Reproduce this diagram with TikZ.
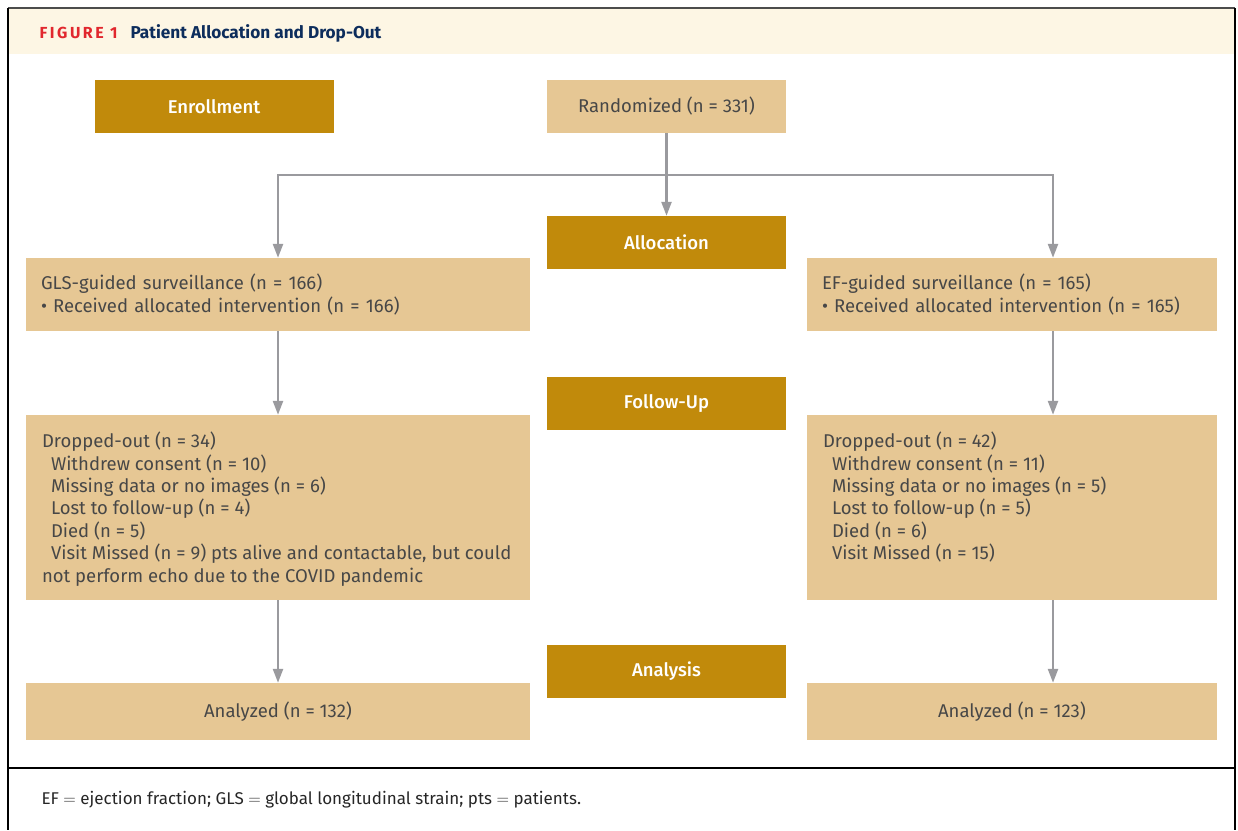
\documentclass[tikz,border=0pt]{standalone}
\usepackage{fontspec}
\setmainfont{Fira Sans}
\newfontfamily\firamed{Fira Sans Medium}
\usetikzlibrary{arrows.meta}

\definecolor{gold}{HTML}{C18A0B}
\definecolor{tan}{HTML}{E6C794}
\definecolor{cream}{HTML}{FDF6E4}
\definecolor{arrowgrey}{HTML}{9A9A9E}
\definecolor{txtgrey}{HTML}{474747}
\definecolor{navy}{HTML}{0D2D5C}
\definecolor{figred}{HTML}{E1272D}

\tikzset{
    stage/.style={fill=gold, text=white, minimum width=239pt, minimum height=53pt,
        font=\fontsize{18.5}{22}\selectfont\firamed},
    info/.style={fill=tan, text=txtgrey, inner xsep=15pt, inner ysep=0pt,
        font=\fontsize{18.5}{22.4}\selectfont},
    flow/.style={draw=arrowgrey, line width=2.4pt,
        -{Triangle[width=10pt,length=14pt]}}
}

\newcommand{\dropbox}[2]{\parbox[c][151pt][t]{#1}{\raggedright #2}}

\begin{document}
\begin{tikzpicture}[x=1pt, y=-1pt]
        \useasboundingbox (0,0) rectangle (1238,830);

        % frame and header
        \fill[cream] (9,9) rectangle (1234,54);
        \draw[line width=2pt, black!70] (8,8) -- (1235,8);
        \draw[line width=2pt] (8,8) -- (8,830);
        \draw[line width=2pt] (1235,8) -- (1235,830);
        \draw[line width=2pt] (8,768) -- (1235,768);

        \node[anchor=west, text=figred, font=\fontsize{16}{18}\selectfont\bfseries\addfontfeature{LetterSpace=16}]
            (fig) at (36,33) {FIGURE 1};
        \node[anchor=west, text=navy, font=\fontsize{17.2}{20}\selectfont\bfseries]
            (title) at (127,33) {Patient Allocation and Drop-Out};

        % stage labels
        \node[stage] (enrol) at (214,106.5) {Enrollment};
        \node[stage, fill=tan, text=txtgrey, font=\fontsize{18.5}{22}\selectfont] (rand) at (666.5,106.5) {Randomized (n = 331)};
        \node[stage] (alloc) at (666.5,242.5) {Allocation};
        \node[stage] (follow) at (666.5,403.5) {Follow-Up};
        \node[stage] (analysis) at (666.5,671.5) {Analysis};

        % arms
        \node[info, minimum width=504pt, minimum height=73pt, text width=474pt, align=left]
            (gls) at (278,294.5) {GLS-guided surveillance (n = 166)\\ \textbullet{} Received allocated intervention (n = 166)};
        \node[info, minimum width=410pt, minimum height=73pt, text width=380pt, align=left]
            (ef) at (1012,294.5) {EF-guided surveillance (n = 165)\\ \textbullet{} Received allocated intervention (n = 165)};

        \node[info, inner xsep=16pt, inner ysep=17pt, minimum width=504pt, minimum height=185pt]
            (dropL) at (278,507.5) {\dropbox{472pt}{Dropped-out (n = 34)\\
                \hspace*{9pt}Withdrew consent (n = 10)\\
                \hspace*{9pt}Missing data or no images (n = 6)\\
                \hspace*{9pt}Lost to follow-up (n = 4)\\
                \hspace*{9pt}Died (n = 5)\\
                \hspace*{9pt}Visit Missed (n = 9) pts alive and contactable, but could\\
                not perform echo due to the COVID pandemic}};
        \node[info, inner xsep=16pt, inner ysep=17pt, minimum width=410pt, minimum height=185pt]
            (dropR) at (1012,507.5) {\dropbox{378pt}{Dropped-out (n = 42)\\
                \hspace*{9pt}Withdrew consent (n = 11)\\
                \hspace*{9pt}Missing data or no images (n = 5)\\
                \hspace*{9pt}Lost to follow-up (n = 5)\\
                \hspace*{9pt}Died (n = 6)\\
                \hspace*{9pt}Visit Missed (n = 15)}};

        \node[info, minimum width=504pt, minimum height=57pt] (anaL) at (278,711.5) {Analyzed (n = 132)};
        \node[info, minimum width=410pt, minimum height=57pt] (anaR) at (1012,711.5) {Analyzed (n = 123)};

        % connectors
        \coordinate (lcol) at (278,175);
        \coordinate (rcol) at (1053,175);
        \draw[flow] (rand) -- (alloc);
        \draw[flow] (rcol) -- (lcol) -- (gls);
        \draw[flow] (lcol) -- (rcol) -- (rcol |- ef.north);
        \draw[flow] (gls) -- (dropL);
        \draw[flow] (dropL) -- (anaL);
        \draw[flow] (rcol |- ef.south) -- (rcol |- dropR.north);
        \draw[flow] (rcol |- dropR.south) -- (rcol |- anaR.north);

        % footnote
        \node[anchor=west, text=black!85, font=\fontsize{17}{20}\selectfont]
            (note) at (38,800) {EF $=$ ejection fraction; GLS $=$ global longitudinal strain; pts $=$ patients.};
    \end{tikzpicture}
\end{document}
